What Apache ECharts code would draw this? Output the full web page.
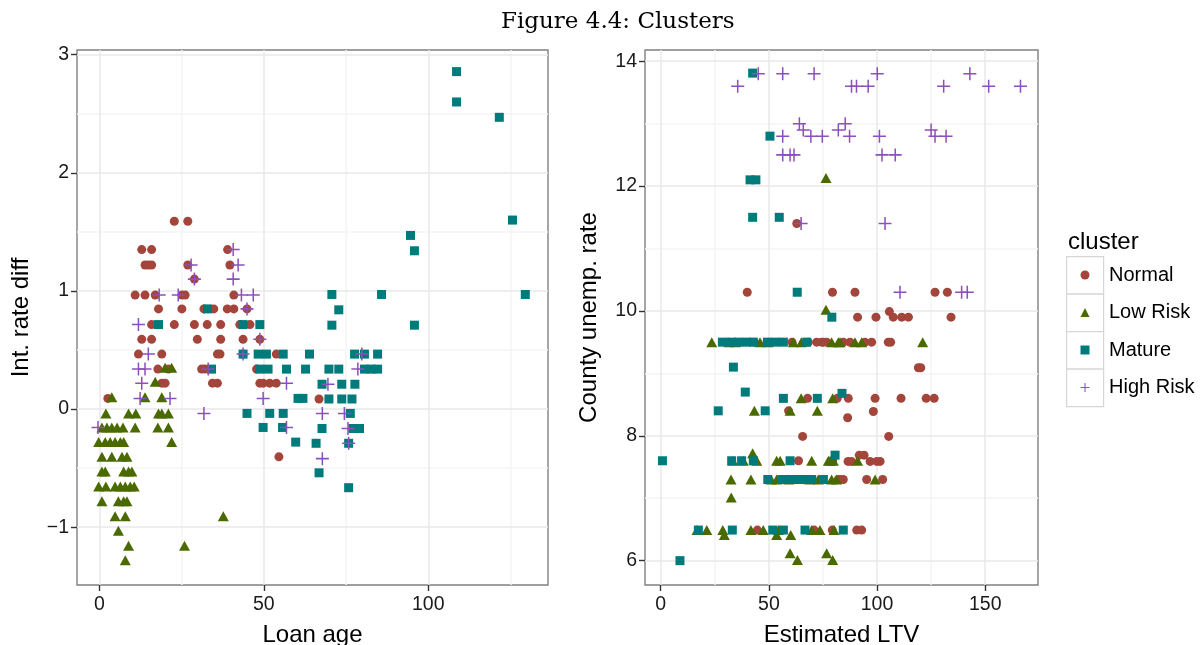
<!DOCTYPE html>
<html>
<head>
<meta charset="utf-8">
<script src="https://cdn.jsdelivr.net/npm/echarts/dist/echarts.min.js"></script>
<style>
html, body { margin: 0; padding: 0; background: #fff; }
#chart { width: 1204px; height: 645px; }
</style>
</head>
<body>
<div id="chart"></div>
<script>
// cluster names (legend order)
const clusters = ['Normal', 'Low Risk', 'Mature', 'High Risk'];

// left panel: [loan age, int. rate diff]
const ageNormal = [
  [22.8,1.59],[26.9,1.59],
  [12.9,1.35],[15.9,1.35],[39.0,1.35],
  [13.9,1.22],[14.9,1.22],[15.9,1.22],[26.9,1.22],[39.7,1.22],
  [28.9,1.10],
  [10.9,0.965],[13.9,0.965],[17.0,0.965],[25.1,0.965],[26.1,0.965],[40.9,0.965],
  [18.0,0.848],[25.1,0.848],[31.8,0.848],[34.8,0.848],[38.9,0.848],[40.9,0.848],[44.9,0.848],
  [15.9,0.715],[22.8,0.715],[28.9,0.715],[32.8,0.715],[36.9,0.715],[42.7,0.715],[45.8,0.715],
  [12.9,0.59],[15.9,0.59],[29.8,0.59],[36.9,0.59],[43.7,0.59],[48.8,0.59],
  [11.9,0.465],[19.0,0.465],[35.9,0.465],[36.7,0.465],[43.7,0.465],[53.8,0.465],
  [17.8,0.338],[21.0,0.338],[31.1,0.338],[32.1,0.338],[47.8,0.338],
  [19.0,0.219],[20.0,0.219],[34.4,0.219],[35.9,0.219],[48.8,0.219],[49.8,0.219],[51.8,0.219],[53.8,0.219],
  [2.6,0.09],[66.8,0.085],
  [54.6,-0.405]
];
const ageLowRisk = [
  [20.0,0.35],[22.0,0.35],[17.0,0.23],[3.8,0.1],[13.9,0.1],[19.0,0.1],
  [2.0,-0.037],[8.9,-0.037],[11.1,-0.037],[18.0,-0.037],[19.0,-0.037],[21.0,-0.037],
  [0.8,-0.156],[2.3,-0.156],[3.8,-0.156],[5.4,-0.156],[7.2,-0.156],[10.9,-0.156],[17.8,-0.156],[21.0,-0.156],
  [-0.2,-0.28],[1.8,-0.28],[3.3,-0.28],[4.8,-0.28],[6.4,-0.28],[7.4,-0.28],[22.0,-0.28],
  [0.8,-0.405],[3.8,-0.405],[6.9,-0.405],[8.4,-0.405],
  [0.8,-0.53],[1.8,-0.53],[7.4,-0.53],[8.9,-0.53],[9.9,-0.53],
  [-0.2,-0.655],[2.0,-0.655],[4.8,-0.655],[6.4,-0.655],[7.9,-0.655],[9.4,-0.655],[10.6,-0.655],
  [0.8,-0.78],[5.8,-0.78],[7.4,-0.78],[8.4,-0.78],
  [4.8,-0.908],[7.9,-0.908],[37.7,-0.908],
  [5.8,-1.03],[8.9,-1.157],[25.9,-1.157],[7.9,-1.28]
];
const ageMature = [
  [108.6,2.857],[108.6,2.60],[121.6,2.47],[125.6,1.60],[94.6,1.47],[95.8,1.34],
  [70.7,0.97],[85.8,0.97],[129.5,0.97],
  [32.9,0.848],[72.8,0.84],
  [18.0,0.715],[43.7,0.715],[48.8,0.715],[70.7,0.71],[95.8,0.71],
  [43.7,0.465],[48.3,0.465],[50.8,0.465],[55.9,0.465],[63.9,0.465],[77.6,0.465],[80.6,0.465],[84.6,0.465],
  [34.1,0.338],[48.8,0.338],[51.3,0.338],[56.9,0.338],[62.7,0.338],[69.8,0.338],[72.8,0.338],[80.6,0.338],[82.6,0.338],[84.6,0.338],
  [67.7,0.21],[73.7,0.21],[77.7,0.21],
  [60.4,0.09],[61.9,0.09],[69.8,0.085],[73.7,0.085],[76.8,0.085],
  [44.9,-0.037],[51.8,-0.037],[55.9,-0.037],[76.3,-0.037],
  [49.8,-0.156],[55.7,-0.156],[67.7,-0.165],[77.1,-0.165],[79.1,-0.165],
  [59.7,-0.28],[65.9,-0.29],[75.8,-0.29],
  [66.8,-0.54],[75.8,-0.666]
];
const ageHighRisk = [
  [27.9,1.22],[28.9,1.10],[40.7,1.35],[42.2,1.22],[40.7,1.10],
  [18.2,0.965],[24.0,0.965],[43.2,0.965],[46.8,0.965],
  [44.9,0.848],[11.9,0.715],[48.8,0.59],
  [14.9,0.465],[43.7,0.465],[79.8,0.465],
  [11.9,0.338],[13.9,0.338],[33.1,0.338],[78.6,0.338],
  [12.9,0.219],[56.9,0.219],[69.5,0.21],
  [12.4,0.09],[21.5,0.09],[49.8,0.09],
  [31.8,-0.037],[67.8,-0.037],[74.5,-0.037],
  [-0.4,-0.156],[56.9,-0.156],[75.6,-0.165],
  [75.8,-0.29],[67.8,-0.42]
];

// right panel: [estimated LTV, county unemp. rate]
const ltvNormal = [
  [62.9,11.4],
  [40.0,10.3],[79.4,10.3],[89.8,10.3],[126.8,10.3],[132.5,10.3],
  [105.7,9.99],
  [91.0,9.9],[99.5,9.9],[107.5,9.9],[111.4,9.9],[114.5,9.9],[134.2,9.9],
  [43.3,9.5],[60.7,9.5],[68.2,9.5],[72.1,9.5],[74.4,9.5],[76.7,9.5],[75.2,9.5],[84.4,9.5],[87.5,9.5],[94.4,9.5],[97.5,9.5],[105.2,9.5],[106.3,9.5],
  [119.1,9.09],[120.2,9.09],
  [67.9,8.6],[81.6,8.6],[86.7,8.6],[99.1,8.6],[111.1,8.6],[122.7,8.6],[126.4,8.6],
  [59.1,8.4],[98.3,8.39],[86.4,8.29],
  [65.6,7.99],[105.4,7.99],
  [91.8,7.69],[94.0,7.69],
  [63.7,7.6],[79.5,7.6],[86.6,7.59],[88.2,7.59],[96.8,7.59],[99.9,7.59],[101.4,7.59],
  [82.1,7.3],[82.9,7.3],[84.4,7.3],[95.2,7.3],[102.6,7.3],
  [44.7,6.49],[70.9,6.49],[79.3,6.49],[90.6,6.49],[92.9,6.49]
];
const ltvLowRisk = [
  [76.4,12.13],[76.4,10.02],
  [23.6,9.5],[31.5,9.5],[34.6,9.5],[45.9,9.5],[49.7,9.5],[61.3,9.5],[65.0,9.5],[79.0,9.5],[82.1,9.5],[82.9,9.5],[89.8,9.5],[92.9,9.5],[121.1,9.5],
  [64.9,8.6],[79.5,8.6],
  [43.3,8.4],[59.8,8.4],[72.4,8.4],
  [33.3,7.6],[38.2,7.6],[42.5,7.72],[44.4,7.6],[53.6,7.6],[55.2,7.6],[69.8,7.6],[77.5,7.6],[78.3,7.6],[79.8,7.6],[91.0,7.6],
  [32.5,7.3],[41.7,7.3],[51.0,7.3],[53.6,7.3],[59.2,7.3],[68.9,7.3],[72.8,7.3],[79.0,7.3],[81.3,7.3],[99.1,7.3],
  [32.6,7.01],
  [16.8,6.49],[21.3,6.49],[28.7,6.49],[41.7,6.49],[47.4,6.49],[54.4,6.49],[69.8,6.49],[73.6,6.49],[80.1,6.49],
  [29.4,6.41],[53.6,6.41],[60.1,6.41],
  [59.8,6.12],[76.7,6.12],[63.2,6.01],[79.5,6.01]
];
const ltvMature = [
  [42.5,13.81],[50.5,12.8],[41.3,12.1],[44.0,12.1],[42.5,11.5],[54.8,11.5],[63.1,10.3],[79.1,9.9],
  [28.5,9.5],[32.3,9.5],[36.0,9.5],[39.7,9.5],[42.8,9.5],[49.3,9.5],[53.0,9.5],[56.7,9.5],[67.5,9.5],
  [33.6,9.1],[39.1,8.7],
  [56.7,8.6],[72.4,8.6],[83.8,8.68],
  [26.6,8.4],[48.3,8.4],
  [0.8,7.6],[32.8,7.6],[37.4,7.6],[42.8,7.6],[59.8,7.6],[80.6,7.69],
  [49.5,7.3],[56.0,7.3],[59.5,7.3],[63.0,7.3],[66.5,7.3],[69.8,7.3],[75.2,7.3],
  [17.4,6.49],[33.1,6.49],[51.8,6.49],[56.7,6.49],[66.7,6.49],[84.4,6.49],
  [8.9,6.0]
];
const ltvHighRisk = [
  [45.1,13.8],[56.4,13.8],[70.9,13.8],[100.1,13.8],[142.9,13.8],
  [35.6,13.6],[88.2,13.6],[90.5,13.6],[95.9,13.6],[130.8,13.6],[151.6,13.6],[166.3,13.6],
  [64.1,13.0],[85.3,13.0],
  [65.9,12.9],[82.1,12.9],[125.0,12.9],
  [56.4,12.8],[69.4,12.8],[74.7,12.8],[87.3,12.8],[101.1,12.8],[126.8,12.8],[131.9,12.8],
  [56.4,12.5],[59.8,12.5],[61.6,12.5],[102.3,12.5],[108.4,12.5],
  [64.9,11.4],[103.7,11.4],
  [110.6,10.3],[139.1,10.3],[141.7,10.3]
];

// axis breaks
const ageTicks = [0, 50, 100];
const ageMinor = [25, 75, 125];
const rateTicks = [-1, 0, 1, 2, 3];
const rateMinor = [-0.5, 0.5, 1.5, 2.5];
const ltvTicks = [0, 50, 100, 150];
const ltvMinor = [25, 75, 125];
const unempTicks = [6, 8, 10, 12, 14];
const unempMinor = [7, 9, 11, 13];

const colors = { 'Normal': '#A3453B', 'Low Risk': '#4A6A00', 'Mature': '#007B7C', 'High Risk': '#8C50BC' };
const plusPath = 'path://M5.3,0H6.7V5.3H12V6.7H6.7V12H5.3V6.7H0V5.3H5.3Z';
const symbols = {
  'Normal': ['circle', 9],
  'Low Risk': ['triangle', [11, 10]],
  'Mature': ['rect', 9],
  'High Risk': [plusPath, 13]
};
const FONT = 'Liberation Sans';

function fmtMinus(v) { return String(v).replace('-', '\u2212'); }

function valueAxis(grid, min, max, ticks, name, isX) {
  return {
    type: 'value', gridIndex: grid, min: min, max: max,
    name: name, nameLocation: 'middle', nameGap: isX ? 38 : 44,
    nameTextStyle: { fontFamily: FONT, fontSize: 24, color: '#000' },
    axisLine: { show: false, onZero: false },
    splitLine: { show: false },
    axisTick: { show: true, length: 6, customValues: ticks, lineStyle: { color: '#333', width: 1.4 } },
    axisLabel: { customValues: ticks, margin: isX ? 10 : 8, formatter: fmtMinus,
      fontFamily: FONT, fontSize: 19.5, color: '#1a1a1a' }
  };
}

function gridLines(xi, yi, xMajor, xMinor, yMajor, yMinor) {
  const minor = { color: '#f4f4f4', width: 1.5, type: 'solid' };
  const major = { color: '#e8e8e8', width: 1.5, type: 'solid' };
  const d = [];
  xMinor.forEach(v => d.push({ xAxis: v, lineStyle: minor }));
  yMinor.forEach(v => d.push({ yAxis: v, lineStyle: minor }));
  xMajor.forEach(v => d.push({ xAxis: v, lineStyle: major }));
  yMajor.forEach(v => d.push({ yAxis: v, lineStyle: major }));
  return {
    type: 'scatter', name: 'grid' + xi, xAxisIndex: xi, yAxisIndex: yi, data: [], silent: true,
    markLine: { silent: true, z: 1, symbol: ['none', 'none'], label: { show: false },
      emphasis: { disabled: true }, animation: false, data: d }
  };
}

function pointSeries(name, data, xi) {
  return {
    type: 'scatter', name: name, data: data, xAxisIndex: xi, yAxisIndex: xi, z: 3,
    symbol: symbols[name][0], symbolSize: symbols[name][1],
    itemStyle: { color: colors[name], opacity: 1 },
    emphasis: { disabled: true }
  };
}

const chart = echarts.init(document.getElementById('chart'), null, { renderer: 'canvas' });
chart.setOption({
  animation: false,
  backgroundColor: '#fff',
  title: [
    { text: 'Figure 4.4: Clusters', left: 496, top: 6,
      textStyle: { fontFamily: 'DejaVu Serif', fontSize: 23, fontWeight: 'normal', color: '#000' } },
    { text: 'cluster', left: 1063, top: 225,
      textStyle: { fontFamily: FONT, fontSize: 24, fontWeight: 'normal', color: '#000' } }
  ],
  grid: [
    { left: 77, top: 50, width: 471, height: 535, show: true, outerBoundsMode: 'none', containLabel: false,
      borderColor: '#808080', borderWidth: 1.4, backgroundColor: 'transparent' },
    { left: 645, top: 50, width: 393, height: 535, show: true, outerBoundsMode: 'none', containLabel: false,
      borderColor: '#808080', borderWidth: 1.4, backgroundColor: 'transparent' }
  ],
  xAxis: [
    valueAxis(0, -6.78, 136.4, ageTicks, 'Loan age', true),
    valueAxis(1, -7.26, 174.4, ltvTicks, 'Estimated LTV', true)
  ],
  yAxis: [
    valueAxis(0, -1.49, 3.04, rateTicks, 'Int. rate diff', false),
    valueAxis(1, 5.61, 14.18, unempTicks, 'County unemp. rate', false)
  ],
  legend: {
    data: clusters, orient: 'vertical', left: 1080.5, top: 265,
    itemWidth: 9, itemHeight: 9, itemGap: 17.5, padding: 0,
    selectedMode: false,
    textStyle: { fontFamily: FONT, fontSize: 20, lineHeight: 20, color: '#000', padding: [0, 0, 0, 14.5] }
  },
  graphic: clusters.map((c, i) => ({
    type: 'rect', left: 1066, top: 256 + i * 37.5, z: 0, silent: true,
    shape: { width: 37, height: 37.5 },
    style: { fill: '#fff', stroke: '#d6d6d6', lineWidth: 1.2 }
  })),
  series: [
    gridLines(0, 0, ageTicks, ageMinor, rateTicks, rateMinor),
    gridLines(1, 1, ltvTicks, ltvMinor, unempTicks, unempMinor),
    pointSeries('Normal', ageNormal, 0),
    pointSeries('Low Risk', ageLowRisk, 0),
    pointSeries('Mature', ageMature, 0),
    pointSeries('High Risk', ageHighRisk, 0),
    pointSeries('Normal', ltvNormal, 1),
    pointSeries('Low Risk', ltvLowRisk, 1),
    pointSeries('Mature', ltvMature, 1),
    pointSeries('High Risk', ltvHighRisk, 1)
  ]
});
</script>
</body>
</html>
